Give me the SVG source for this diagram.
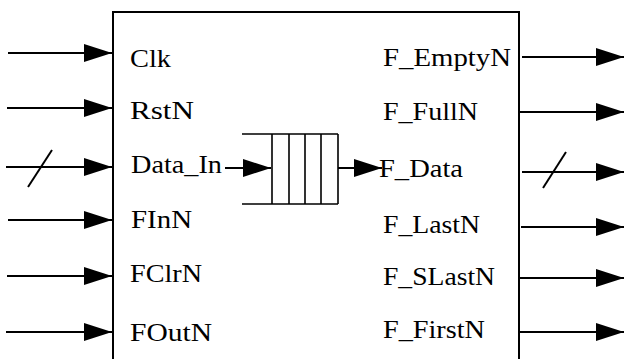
<svg xmlns="http://www.w3.org/2000/svg" width="625" height="359" viewBox="0 0 625 359">
  <style>
    .edge { stroke: #000; stroke-width: 2; fill: none; }
    .thin { stroke: #000; stroke-width: 1.6; fill: none; }
    .lbl { font-family: "Liberation Serif", "Times New Roman", serif; font-size: 25.5px; fill: #000; }
  </style>
  <defs>
    <marker id="ah" markerUnits="userSpaceOnUse" markerWidth="29" markerHeight="18" refX="28" refY="9" orient="auto" viewBox="0 0 29 18">
      <path d="M0,0 L28,9 L0,18 Z" fill="#000"/>
    </marker>
  </defs>

  <g id="fifo_block">
    <path class="edge" d="M113,359 L113,12 L519,12 L519,359"/>
    <text class="lbl" x="130" y="67" textLength="41" lengthAdjust="spacingAndGlyphs">Clk</text>
    <text class="lbl" x="130" y="119" textLength="64" lengthAdjust="spacingAndGlyphs">RstN</text>
    <text class="lbl" x="131" y="173" textLength="91" lengthAdjust="spacingAndGlyphs">Data_In</text>
    <text class="lbl" x="131" y="228" textLength="61" lengthAdjust="spacingAndGlyphs">FInN</text>
    <text class="lbl" x="130" y="282" textLength="72" lengthAdjust="spacingAndGlyphs">FClrN</text>
    <text class="lbl" x="130" y="341" textLength="82" lengthAdjust="spacingAndGlyphs">FOutN</text>
    <text class="lbl" x="383" y="66" textLength="128" lengthAdjust="spacingAndGlyphs">F_EmptyN</text>
    <text class="lbl" x="383" y="120" textLength="95" lengthAdjust="spacingAndGlyphs">F_FullN</text>
    <text class="lbl" x="379" y="177" textLength="84" lengthAdjust="spacingAndGlyphs">F_Data</text>
    <text class="lbl" x="383" y="233" textLength="97" lengthAdjust="spacingAndGlyphs">F_LastN</text>
    <text class="lbl" x="383" y="285" textLength="112" lengthAdjust="spacingAndGlyphs">F_SLastN</text>
    <text class="lbl" x="383" y="338" textLength="102" lengthAdjust="spacingAndGlyphs">F_FirstN</text>
  </g>

  <g id="queue">
    <path class="thin" d="M242,134 L338,134 M242,204 L338,204 M272,134 L272,204 M289,134 L289,204 M305,134 L305,204 M321,134 L321,204 M338,134 L338,204"/>
  </g>

  <g id="connectors">
    <line class="edge" x1="8" y1="53" x2="112" y2="53" marker-end="url(#ah)"/>
    <line class="edge" x1="7" y1="108" x2="112" y2="108" marker-end="url(#ah)"/>
    <line class="edge" x1="6" y1="167" x2="112" y2="167" marker-end="url(#ah)"/>
    <line class="edge" x1="28" y1="187" x2="52" y2="150"/>
    <line class="edge" x1="8" y1="220" x2="112" y2="220" marker-end="url(#ah)"/>
    <line class="edge" x1="7" y1="276" x2="112" y2="276" marker-end="url(#ah)"/>
    <line class="edge" x1="6" y1="332" x2="112" y2="332" marker-end="url(#ah)"/>

    <line class="edge" x1="225" y1="168" x2="271" y2="168" marker-end="url(#ah)"/>
    <line class="edge" x1="338" y1="168" x2="382" y2="168" marker-end="url(#ah)"/>

    <line class="edge" x1="522" y1="57" x2="624" y2="57" marker-end="url(#ah)"/>
    <line class="edge" x1="520" y1="112" x2="624" y2="112" marker-end="url(#ah)"/>
    <line class="edge" x1="522" y1="172" x2="624" y2="172" marker-end="url(#ah)"/>
    <line class="edge" x1="543" y1="188" x2="566" y2="152"/>
    <line class="edge" x1="521" y1="227" x2="624" y2="227" marker-end="url(#ah)"/>
    <line class="edge" x1="519" y1="278" x2="624" y2="278" marker-end="url(#ah)"/>
    <line class="edge" x1="519" y1="332" x2="624" y2="332" marker-end="url(#ah)"/>
  </g>
</svg>
